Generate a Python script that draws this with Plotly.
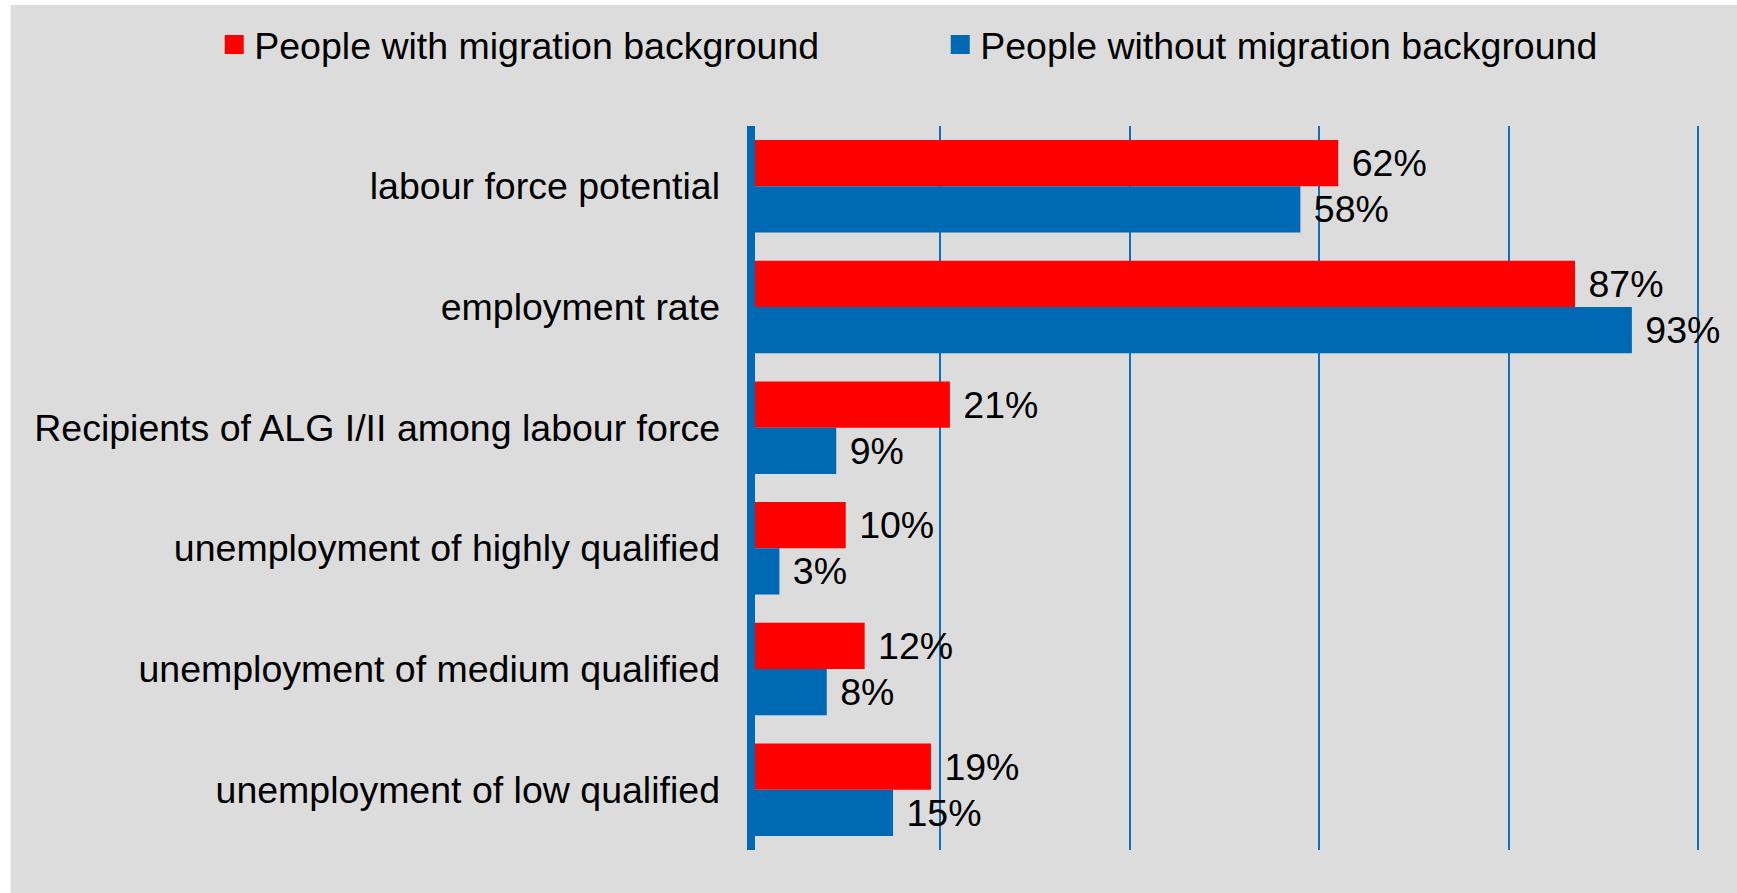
import plotly.graph_objects as go

# Labour-market indicators, top to bottom
categories = [
    "labour force potential",
    "employment rate",
    "Recipients of ALG I/II among labour force",
    "unemployment of highly qualified",
    "unemployment of medium qualified",
    "unemployment of low qualified",
]
with_migration = [62, 87, 21, 10, 12, 19]
without_migration = [58, 93, 9, 3, 8, 15]
series_names = ["People with migration background", "People without migration background"]
x_gridlines = [0, 20, 40, 60, 80, 100]

RED = "#FF0000"
BLUE = "#0069B4"
GRID = "#1070BE"
BG = "#DCDCDC"
FONT = "Liberation Sans, Arial, sans-serif"
FS = 37.5

W, H = 1737, 893
L, T, B = 751, 126, 43
PX_PER_PCT = 9.467          # horizontal scale of the value axis
X_MAX = 100.3               # a little headroom so the 100 % gridline is kept
PW = PX_PER_PCT * X_MAX
R = W - L - PW
PH = H - T - B


def paper_x(px):
    return (px - L) / PW


def paper_y(py):
    return (H - B - py) / PH


fig = go.Figure()

series = [with_migration, without_migration]
colors = [RED, BLUE]

for name, vals, color in zip(series_names, series, colors):
    fig.add_trace(go.Bar(
        y=categories,
        x=vals,
        orientation="h",
        name=name,
        marker=dict(color=color, line=dict(width=0)),
        texttemplate="\u00a0%{x}%",
        textposition="outside",
        textfont=dict(size=FS, color="black", family=FONT),
        constraintext="none",
        cliponaxis=False,
        showlegend=False,
        hoverinfo="skip",
    ))

# legend entries with square swatches
for name, color in zip(series_names, colors):
    fig.add_trace(go.Scatter(
        x=[None], y=[None], mode="markers", name=name,
        marker=dict(symbol="square", size=16, color=color, line=dict(width=3, color=color)),
        hoverinfo="skip",
    ))

fig.update_layout(
    width=W, height=H,
    margin=dict(l=L, r=R, t=T, b=B, pad=0, autoexpand=False),
    paper_bgcolor="white",
    plot_bgcolor=BG,
    barmode="group",
    bargap=0.234,
    bargroupgap=0,
    font=dict(family=FONT, size=FS, color="black"),
    showlegend=True,
    legend=dict(
        orientation="h",
        x=paper_x(214.5), xanchor="left",
        y=paper_y(44.5), yanchor="middle",
        entrywidth=681, entrywidthmode="pixels",
        font=dict(size=FS, color="black", family=FONT),
        bgcolor="rgba(0,0,0,0)",
        itemsizing="trace",
        traceorder="normal",
    ),
    xaxis=dict(
        range=[0, X_MAX],
        tickvals=x_gridlines,
        showticklabels=False,
        showgrid=True, gridcolor=GRID, gridwidth=1.5,
        zeroline=False, showline=False, ticks="",
        fixedrange=True,
    ),
    yaxis=dict(
        type="category",
        categoryorder="array", categoryarray=categories,
        autorange="reversed",
        showgrid=False, zeroline=False, showline=False,
        ticks="", ticklabelstandoff=30,
        tickfont=dict(size=FS, color="black", family=FONT),
        fixedrange=True,
    ),
    shapes=[
        # grey chart area inside a thin white frame
        dict(type="rect", xref="paper", yref="paper",
             x0=paper_x(11), x1=paper_x(W), y0=paper_y(H), y1=paper_y(5),
             fillcolor=BG, line=dict(width=0), layer="below"),
        # heavy category axis line at value 0 (left edge of the plot area)
        dict(type="line", xref="paper", yref="paper", x0=0, x1=0, y0=0, y1=1,
             line=dict(color=BLUE, width=8), layer="above"),
    ],
)

fig.write_html("out.html")
